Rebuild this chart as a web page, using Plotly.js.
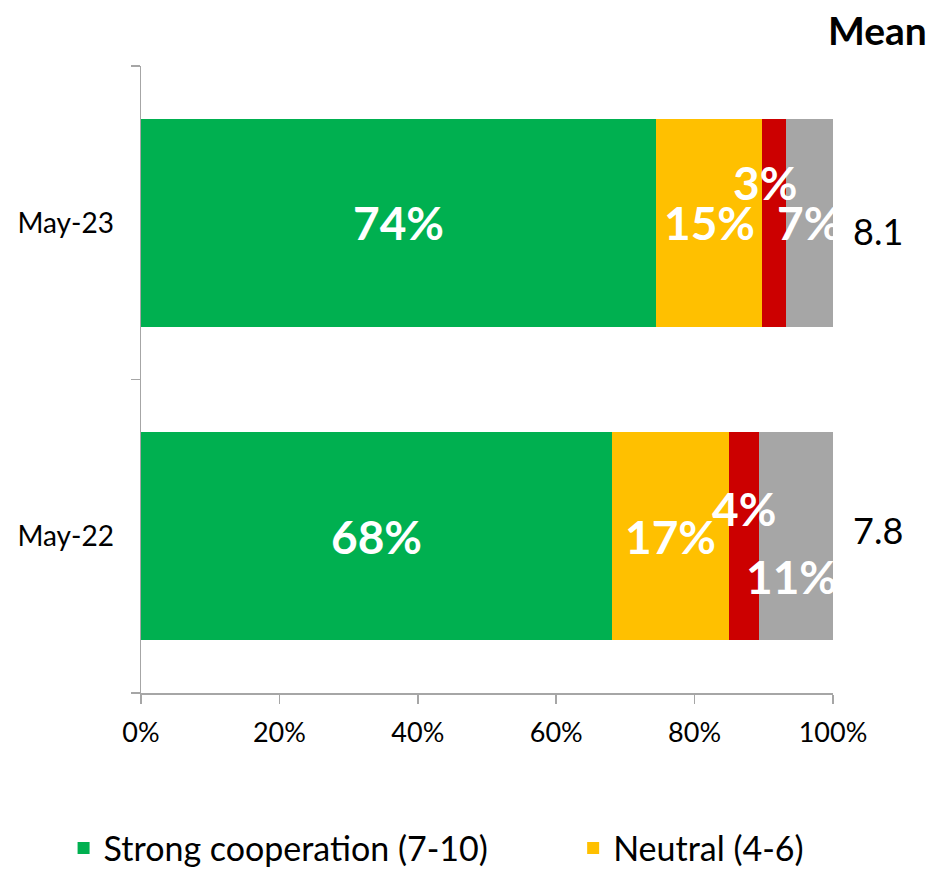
<!DOCTYPE html>
<html>
<head>
<meta charset="utf-8">
<script src="https://cdn.plot.ly/plotly-3.0.1.min.js"></script>
<style>html,body{margin:0;padding:0;background:#fff;}#chart{width:935px;height:872px;}</style>
</head>
<body>
<div id="chart"></div>
<script>
// ---- data ----
const categories = ['May-22', 'May-23'];
const seriesNames = ['Strong cooperation (7-10)', 'Neutral (4-6)', 'Weak cooperation (0-3)', "Don't know"];
const strongValues = [68.1, 74.4];
const neutralValues = [16.9, 15.4];
const weakValues = [4.3, 3.4];
const dontKnowValues = [10.7, 6.8];
const meanValues = ['7.8', '8.1'];
const xTickValues = [0, 20, 40, 60, 80, 100];
const xTickLabels = ['0%', '20%', '40%', '60%', '80%', '100%'];

// ---- styles ----
const colors = ['#00B050', '#FFC000', '#CC0000', '#A6A6A6'];
const showInLegend = [true, true, false, false];
const legendIds = ['legend', 'legend2', 'legend', 'legend'];
const FONT = 'Lato, "Open Sans", "DejaVu Sans", sans-serif';
// label shifts per series [May-22, May-23]
const labelShifts = [
  [[0, 0], [0, 0]],
  [[0, 0], [0, 0]],
  [[0, 28], [-9, 40]],
  [[-4, -40], [0, 0]]
];

const allSeries = [strongValues, neutralValues, weakValues, dontKnowValues];

const traces = allSeries.map((vals, i) => ({
  type: 'bar',
  orientation: 'h',
  name: seriesNames[i],
  y: categories,
  x: vals,
  marker: {color: colors[i], line: {width: 0}},
  showlegend: showInLegend[i],
  legend: legendIds[i],
  hoverinfo: 'skip',
  width: 0.665
}));

const annotations = [];
const cum = categories.map(() => 0);
allSeries.forEach((vals, i) => {
  vals.forEach((v, j) => {
    const center = cum[j] + v / 2;
    cum[j] += v;
    annotations.push({
      x: center, y: categories[j], xref: 'x', yref: 'y',
      text: Math.round(v) + '%', showarrow: false,
      font: {family: FONT, size: 46, color: '#FFFFFF', weight: 'bold'},
      xshift: labelShifts[i][j][0], yshift: labelShifts[i][j][1]
    });
  });
});
categories.forEach((c, j) => {
  annotations.push({
    x: 1.065, xref: 'paper', y: c, yref: 'y', xanchor: 'center',
    text: meanValues[j], showarrow: false,
    font: {family: FONT, size: 36, color: '#000000'},
    yshift: j === 1 ? -8 : 6
  });
});
annotations.push({
  x: 1.064, xref: 'paper', y: 1.058, yref: 'paper', xanchor: 'center', yanchor: 'middle',
  text: '<b>Mean</b>', showarrow: false,
  font: {family: FONT, size: 39, color: '#000000'}
});

const legendBase = {
  orientation: 'h', xref: 'container', yref: 'container',
  y: 0.027, xanchor: 'left', yanchor: 'middle',
  font: {family: FONT, size: 34, color: '#000000'},
  itemwidth: 30, bgcolor: 'rgba(0,0,0,0)'
};

const layout = {
  width: 935, height: 872,
  margin: {l: 141, r: 102, t: 66, b: 179, pad: 0},
  barmode: 'stack',
  paper_bgcolor: '#FFFFFF', plot_bgcolor: '#FFFFFF',
  font: {family: FONT, color: '#000000'},
  xaxis: {
    range: [0, 100], tickvals: xTickValues, ticktext: xTickLabels,
    showgrid: false, zeroline: false,
    showline: true, linecolor: '#A6A6A6', linewidth: 1.5,
    ticks: 'outside', ticklen: 9, tickcolor: '#A6A6A6', tickwidth: 1.5,
    tickfont: {family: FONT, size: 27, color: '#000000'},
    ticklabelstandoff: 6,
    fixedrange: true
  },
  yaxis: {
    type: 'category', categoryorder: 'array', categoryarray: categories,
    range: [-0.5, 1.5],
    showgrid: false, zeroline: false,
    showline: true, linecolor: '#A6A6A6', linewidth: 1.5,
    ticks: 'outside', ticklen: 9, tickcolor: '#A6A6A6', tickwidth: 1.5,
    tickson: 'boundaries',
    tickfont: {family: FONT, size: 28, color: '#000000'},
    ticklabelstandoff: 20,
    fixedrange: true
  },
  legend: Object.assign({}, legendBase, {x: 0.068}),
  legend2: Object.assign({}, legendBase, {x: 0.613}),
  annotations: annotations,
  showlegend: true
};

Plotly.newPlot('chart', traces, layout, {displayModeBar: false, staticPlot: true});
</script>
</body>
</html>
